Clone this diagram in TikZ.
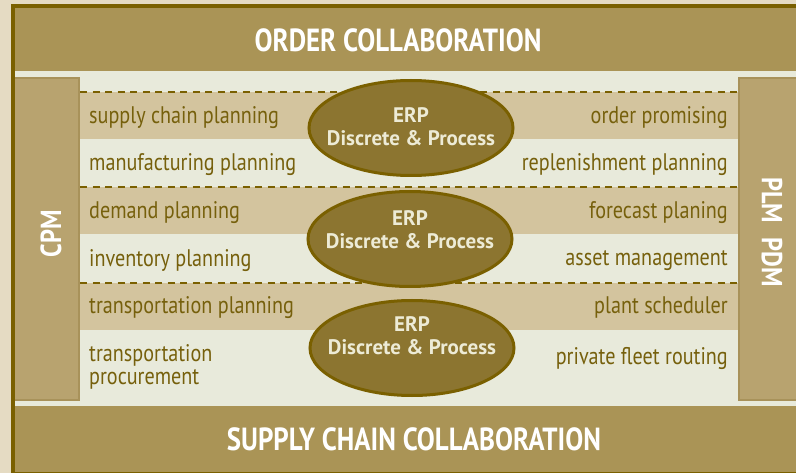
\documentclass[tikz,border=0pt]{standalone}
\usepackage{fontspec}
\setmainfont{PT Sans}
\newfontfamily\condfont{PT Sans}[FakeStretch=0.84]
\usepackage{tikz}
\usetikzlibrary{shapes.geometric,positioning}
\definecolor{pagebg}{HTML}{E5DBC3}
\definecolor{framebrown}{HTML}{7A6000}
\definecolor{bandgold}{HTML}{AA9456}
\definecolor{innerlight}{HTML}{E8EADB}
\definecolor{stripe}{HTML}{D3C49E}
\definecolor{colfill}{HTML}{B8A36F}
\definecolor{colline}{HTML}{A8925A}
\definecolor{erpfill}{HTML}{8C7530}
\definecolor{erptext}{HTML}{EDEBD6}
\definecolor{labeltext}{HTML}{76600C}

\begin{document}
\begin{tikzpicture}[x=1pt,y=-1pt]
	\tikzstyle{every node}=[inner sep=0pt]
	\tikzstyle{head}=[text=white, font=\condfont\bfseries\fontsize{32}{34}\selectfont]
	\tikzstyle{side}=[text=white, font=\condfont\bfseries\fontsize{29}{30}\selectfont]
	\tikzstyle{task}=[text=labeltext, font=\condfont\fontsize{24}{23}\selectfont, align=left]
	\tikzstyle{erp}=[ellipse, draw=framebrown, fill=erpfill, line width=3pt, minimum width=204pt, minimum height=95pt]
	\tikzstyle{erplabel}=[text=erptext, align=center, font=\bfseries\fontsize{21}{23}\selectfont]
	\tikzstyle{dashline}=[draw=framebrown, line width=2pt, dash pattern=on 7pt off 5.5pt]
	
	\clip (0,0) rectangle (796,473);
	\fill[pagebg] (0,0) rectangle (796,473);
	\fill[framebrown] (11,4) rectangle (796,473);
	\fill[innerlight] (15,8) rectangle (796,472);
	\fill[bandgold] (15,8) rectangle (796,71);
	\fill[bandgold] (15,406) rectangle (796,472);
	
	\foreach \y in {92,187,283}{
		\fill[stripe] (80,\y) rectangle (738,\y+47.5);
		\draw[dashline] (80,\y) -- (738,\y);
	}
	
	\filldraw[fill=colfill, draw=colline, line width=2pt] (14,78) rectangle (79,400);
	\filldraw[fill=colfill, draw=colline, line width=2pt] (739,78) rectangle (800,400);
	\fill[framebrown] (11,4) rectangle (15,473);
	
	\node[head] (order) at (398,40) {ORDER COLLABORATION};
	\node[head] (supply) at (414,439) {SUPPLY CHAIN COLLABORATION};
	\node[side, rotate=90] (cpm) at (51,234) {CPM};
	\node[side, rotate=-90] (plm) at (772,232) {PLM\hspace{14pt}PDM};
	
	\node[task, anchor=west] (scp) at (89,118) {supply chain planning};
	\node[task, anchor=west] (mfp) at (89,165) {manufacturing planning};
	\node[task, anchor=west] (dmp) at (89,213) {demand planning};
	\node[task, anchor=west] (inv) at (89,261) {inventory planning};
	\node[task, anchor=west] (trp) at (89,308) {transportation planning};
	\node[task, anchor=west] (trc) at (89,367) {transportation\\procurement};
	
	\node[task, anchor=east] (opr) at (728,118) {order promising};
	\node[task, anchor=east] (rep) at (728,165) {replenishment planning};
	\node[task, anchor=east] (fcp) at (728,213) {forecast planing};
	\node[task, anchor=east] (asm) at (728,261) {asset management};
	\node[task, anchor=east] (pls) at (728,308) {plant scheduler};
	\node[task, anchor=east] (pfr) at (728,358) {private fleet routing};
	
	\node[erp] (erp1) at (411,128) {};
	\node[erp] (erp2) at (410,239) {};
	\node[erp] (erp3) at (412,348) {};
	
	\node[erplabel] (erpt1) at ([yshift=1pt]erp1.center) {ERP\\Discrete \& Process};
	\node[erplabel] (erpt2) at ([yshift=9pt]erp2.center) {ERP\\Discrete \& Process};
	\node[erplabel] (erpt3) at ([yshift=12pt]erp3.center) {ERP\\Discrete \& Process};
\end{tikzpicture}
\end{document}
